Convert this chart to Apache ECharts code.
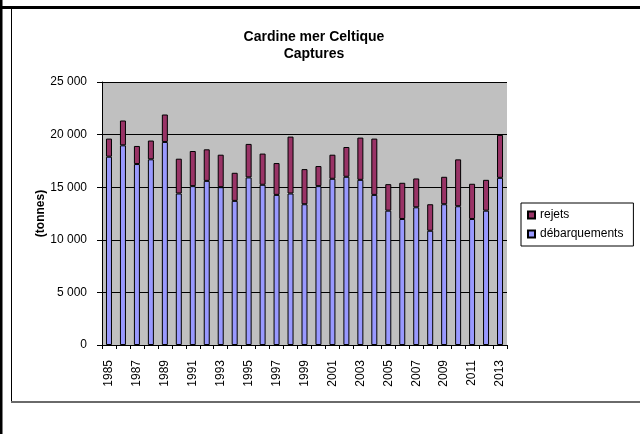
<!DOCTYPE html>
<html><head><meta charset="utf-8">
<script src="https://cdn.jsdelivr.net/npm/echarts@6/dist/echarts.min.js"></script>
<style>html,body{margin:0;padding:0;background:#fff}#c{width:640px;height:434px}</style>
</head><body><div id="c"></div>
<script>
var years = ['1985','1986','1987','1988','1989','1990','1991','1992','1993','1994','1995','1996','1997','1998','1999','2000','2001','2002','2003','2004','2005','2006','2007','2008','2009','2010','2011','2012','2013'];
var debarquements = [17900,18980,17200,17650,19300,14400,15100,15600,15000,13700,15930,15230,14270,14400,13380,15100,15800,15990,15700,14270,12770,11980,13090,10860,13380,13190,11980,12770,15890];
var rejets = [1720,2360,1720,1785,2610,3310,3340,3000,3090,2670,3185,2965,3025,5410,3340,1910,2290,2830,4015,5350,2520,3440,2740,2520,2610,4455,3345,2930,4080];
var titleLines = ['Cardine mer Celtique','Captures'];
var yTicks = {min:0, max:25000, interval:5000};

var F = '"Liberation Sans", Arial, sans-serif';
var chart = echarts.init(document.getElementById('c'));
function fmt(v){ return String(v).replace(/\B(?=(\d{3})+(?!\d))/g,' '); }
chart.setOption({
  animation:false,
  backgroundColor:'#fff',
  title:{text:titleLines.join('\n'), left:309, textAlign:'center', top:24,
    textStyle:{fontFamily:F, fontSize:14, fontWeight:'bold', color:'#000', lineHeight:17}},
  grid:{left:102, right:133, top:82, bottom:89, show:true, backgroundColor:'#C0C0C0', borderWidth:0},
  legend:{orient:'vertical', left:521, top:203, width:114,
    data:['rejets','débarquements'], icon:'rect', itemWidth:7, itemHeight:7, itemGap:7,
    padding:[6,10,6,6], borderColor:'#000', borderWidth:1, backgroundColor:'#fff',
    textStyle:{fontFamily:F, fontSize:12, color:'#000'}},
  xAxis:{type:'category', data:years,
    axisLine:{lineStyle:{color:'#000', width:1}},
    axisTick:{show:true, interval:0, length:4, lineStyle:{color:'#000'}},
    axisLabel:{interval:1, rotate:90, fontFamily:F, fontSize:12, color:'#000', margin:15}},
  yAxis:{type:'value', min:yTicks.min, max:yTicks.max, interval:yTicks.interval,
    name:'(tonnes)', nameLocation:'middle', nameGap:55, nameRotate:90, nameMoveOverlap:false,
    nameTextStyle:{fontFamily:F, fontSize:12, fontWeight:'bold', color:'#000'},
    axisLine:{show:true, lineStyle:{color:'#000'}},
    axisTick:{show:true, length:5, lineStyle:{color:'#000'}},
    splitLine:{lineStyle:{color:'#000', width:1}},
    axisLabel:{formatter:fmt, fontFamily:F, fontSize:12, color:'#000', margin:15}},
  series:[
    {name:'débarquements', type:'bar', stack:'t', data:debarquements, barWidth:6,
     itemStyle:{color:'#9999FF', borderColor:'#000', borderWidth:1}},
    {name:'rejets', type:'bar', stack:'t', data:rejets, barWidth:6,
     itemStyle:{color:'#993366', borderColor:'#000', borderWidth:1}}
  ],
  graphic:[
    {type:'rect', shape:{x:0,y:0,width:2.5,height:434}, style:{fill:'#000'}, silent:true},
    {type:'line', shape:{x1:0,y1:7.5,x2:640,y2:7.5}, style:{stroke:'#000', lineWidth:3}, silent:true},
    {type:'line', shape:{x1:11.5,y1:8,x2:11.5,y2:402}, style:{stroke:'#000', lineWidth:1}, silent:true},
    {type:'line', shape:{x1:11,y1:402,x2:640,y2:402}, style:{stroke:'#6a6a6a', lineWidth:2}, silent:true}
  ]
});
</script></body></html>
